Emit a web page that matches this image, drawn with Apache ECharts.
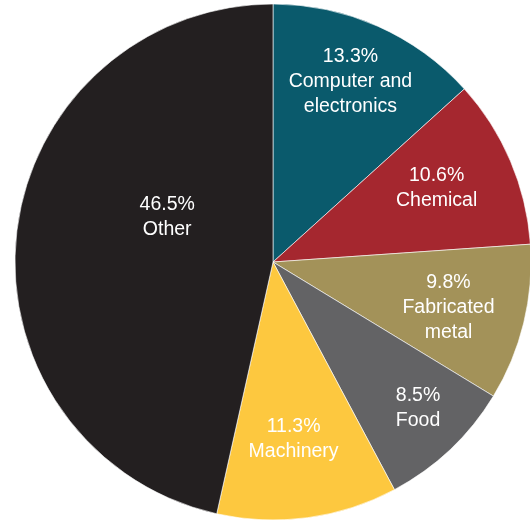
<!DOCTYPE html>
<html>
<head>
<meta charset="utf-8">
<style>
  html, body { margin: 0; padding: 0; background: #fff; }
  #chart { width: 530px; height: 523px; }
</style>
<script src="https://cdn.jsdelivr.net/npm/echarts@6/dist/echarts.min.js"></script>
</head>
<body>
<div id="chart"></div>
<script>
// data
const names = ["Computer and\nelectronics", "Chemical", "Fabricated\nmetal", "Food", "Machinery", "Other"];
const values = [13.3, 10.6, 9.8, 8.5, 11.3, 46.5];
const colors = ["#0a5a6c", "#a5272f", "#a39259", "#636365", "#fdc83f", "#231f20"];

// label placement: fraction of radius and angle nudge (deg)
const labelRadius = [0.77, 0.70, 0.70, 0.79, 0.68, 0.45];
const labelShift = [-1, -2, 0, -2, 1, 18];

(function () {
    let chart = echarts.init(document.querySelector("#chart"));

    const cx = 273, cy = 262, R = 258;
    const total = values.reduce((a, b) => a + b, 0);
    // mid angle of each slice, measured clockwise from top
    let acc = 0;
    const midAngles = values.map(v => {
        const m = (acc + v / 2) / total * 360;
        acc += v;
        return m;
    });

    let option = {
        animation: false,
        series: [
            {
                type: 'pie',
                center: [cx, cy],
                radius: R,
                startAngle: 90,
                clockwise: true,
                itemStyle: {
                    borderColor: "#fff",
                    borderWidth: 0.6
                },
                label: {
                    show: true,
                    position: 'inside',
                    color: "#fff",
                    fontFamily: "Liberation Sans",
                    fontSize: 19.5,
                    lineHeight: 25,
                    align: 'center',
                    formatter: p => p.value.toFixed(1) + "%\n" + p.name
                },
                labelLine: { show: false },
                labelLayout: function (params) {
                    const i = params.dataIndex;
                    const a = (midAngles[i] + labelShift[i]) * Math.PI / 180;
                    return {
                        x: cx + labelRadius[i] * R * Math.sin(a),
                        y: cy + 3 - labelRadius[i] * R * Math.cos(a)
                    };
                },
                emphasis: { disabled: true },
                data: names.map((n, i) => ({
                    name: n,
                    value: values[i],
                    itemStyle: { color: colors[i] }
                }))
            }
        ]
    };

    chart.setOption(option);
})();
</script>
</body>
</html>
